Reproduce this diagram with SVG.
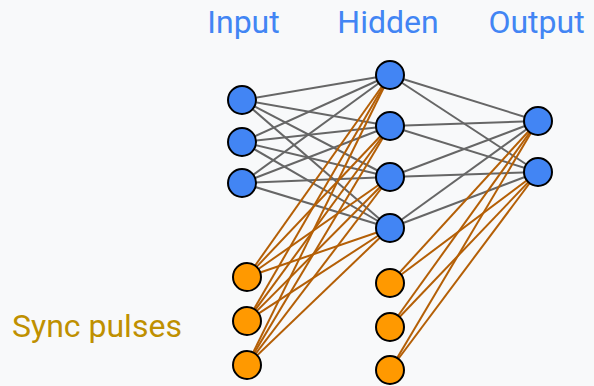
<svg xmlns="http://www.w3.org/2000/svg" width="594" height="386" viewBox="0 0 594 386">
<style>
.g{stroke:#666666;stroke-width:2;fill:none}
.o{stroke:#B45F06;stroke-width:2;fill:none}
.b{fill:#4285F4;stroke:#000;stroke-width:2}
.y{fill:#FF9900;stroke:#000;stroke-width:2}
.t{font-family:Roboto,"Liberation Sans",sans-serif;font-size:32px;fill:#4285F4;text-anchor:middle}
.s{font-family:Roboto,"Liberation Sans",sans-serif;font-size:32px;fill:#BF9000}
</style>
<rect width="594" height="386" fill="#F8F9FA"/>
<g id="labels">
<text class="t" x="243.5" y="33">Input</text>
<text class="t" x="388" y="33">Hidden</text>
<text class="t" x="536.5" y="33">Output</text>
<text class="s" x="12" y="337">Sync pulses</text>
</g>
<g id="connectors">
<g class="g">
<line x1="242" y1="100" x2="390" y2="75"/><line x1="242" y1="100" x2="390" y2="126"/><line x1="242" y1="100" x2="390" y2="177"/><line x1="242" y1="100" x2="390" y2="228"/>
<line x1="242" y1="142" x2="390" y2="75"/><line x1="242" y1="142" x2="390" y2="126"/><line x1="242" y1="142" x2="390" y2="177"/><line x1="242" y1="142" x2="390" y2="228"/>
<line x1="242" y1="183" x2="390" y2="75"/><line x1="242" y1="183" x2="390" y2="126"/><line x1="242" y1="183" x2="390" y2="177"/><line x1="242" y1="183" x2="390" y2="228"/>
<line x1="390" y1="75" x2="538" y2="121"/><line x1="390" y1="75" x2="538" y2="172"/>
<line x1="390" y1="126" x2="538" y2="121"/><line x1="390" y1="126" x2="538" y2="172"/>
<line x1="390" y1="177" x2="538" y2="121"/><line x1="390" y1="177" x2="538" y2="172"/>
<line x1="390" y1="228" x2="538" y2="121"/><line x1="390" y1="228" x2="538" y2="172"/>
</g>
<g class="o">
<line x1="247" y1="277" x2="390" y2="75"/><line x1="247" y1="277" x2="390" y2="126"/><line x1="247" y1="277" x2="390" y2="177"/><line x1="247" y1="277" x2="390" y2="228"/>
<line x1="247" y1="321" x2="390" y2="75"/><line x1="247" y1="321" x2="390" y2="126"/><line x1="247" y1="321" x2="390" y2="177"/><line x1="247" y1="321" x2="390" y2="228"/>
<line x1="247" y1="365" x2="390" y2="75"/><line x1="247" y1="365" x2="390" y2="126"/><line x1="247" y1="365" x2="390" y2="177"/><line x1="247" y1="365" x2="390" y2="228"/>
<line x1="390" y1="283" x2="538" y2="121"/><line x1="390" y1="283" x2="538" y2="172"/>
<line x1="390" y1="327" x2="538" y2="121"/><line x1="390" y1="327" x2="538" y2="172"/>
<line x1="390" y1="370" x2="538" y2="121"/><line x1="390" y1="370" x2="538" y2="172"/>
</g>
</g>
<g id="in1"><circle class="b" cx="242" cy="100" r="14"/></g>
<g id="in2"><circle class="b" cx="242" cy="142" r="14"/></g>
<g id="in3"><circle class="b" cx="242" cy="183" r="14"/></g>
<g id="h1"><circle class="b" cx="390" cy="75" r="14"/></g>
<g id="h2"><circle class="b" cx="390" cy="126" r="14"/></g>
<g id="h3"><circle class="b" cx="390" cy="177" r="14"/></g>
<g id="h4"><circle class="b" cx="390" cy="228" r="14"/></g>
<g id="out1"><circle class="b" cx="538" cy="121" r="14"/></g>
<g id="out2"><circle class="b" cx="538" cy="172" r="14"/></g>
<g id="s1"><circle class="y" cx="247" cy="277" r="14"/></g>
<g id="s2"><circle class="y" cx="247" cy="321" r="14"/></g>
<g id="s3"><circle class="y" cx="247" cy="365" r="14"/></g>
<g id="s4"><circle class="y" cx="390" cy="283" r="14"/></g>
<g id="s5"><circle class="y" cx="390" cy="327" r="14"/></g>
<g id="s6"><circle class="y" cx="390" cy="370" r="14"/></g>
</svg>
